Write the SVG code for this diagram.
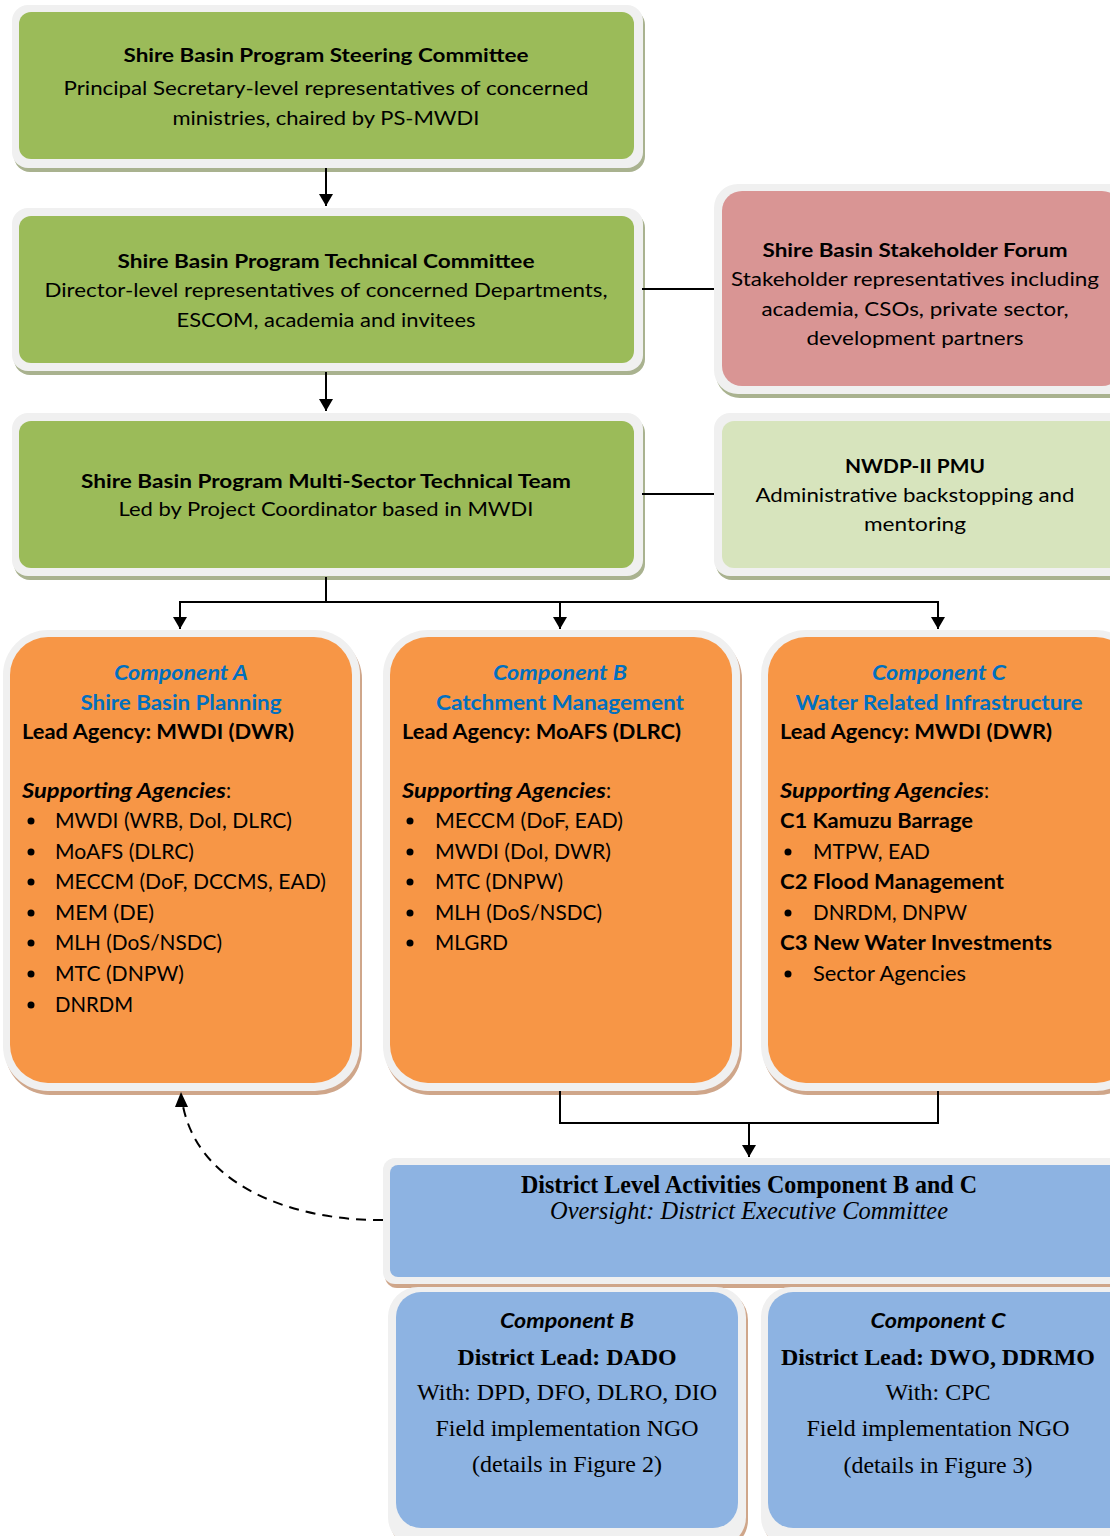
<svg xmlns="http://www.w3.org/2000/svg" width="1110" height="1536" viewBox="0 0 1110 1536">
<defs>
<style>
.frame{fill:#F0F0F0}
.shg{fill:#A9B28F}
.sht{fill:#CFA68A}
.green{fill:#9BBB59}
.pink{fill:#D99594}
.lgreen{fill:#D7E4BD}
.orange{fill:#F79646}
.blue{fill:#8DB3E2}
.s{font-family:Lato,"Open Sans","Liberation Sans",sans-serif;fill:#000}
.g{font-size:19.5px}
.o{font-size:20.5px}
.b{font-weight:bold}
.i{font-style:italic}
.bl{fill:#0070C0}
.t{font-family:"Liberation Serif","Times New Roman",serif;fill:#000;font-size:24px}
.tt{font-size:25px}
.c{text-anchor:middle}
.ln{stroke:#000;stroke-width:2;fill:none}
</style>
<marker id="ah" viewBox="0 0 12 14" refX="12" refY="7" markerWidth="12" markerHeight="14" markerUnits="userSpaceOnUse" orient="auto">
<path d="M0,0 L12,7 L0,14 Z" fill="#000"/>
</marker>
</defs>

<g id="steering">
<rect class="shg" x="14" y="9" width="631" height="163" rx="16"/>
<rect class="frame" x="12" y="5" width="631" height="163" rx="16"/>
<rect class="green" x="19" y="12" width="615" height="147" rx="12"/>
<text class="s g b c" x="326" y="62" textLength="405" lengthAdjust="spacingAndGlyphs">Shire Basin Program Steering Committee</text>
<text class="s g c" x="326" y="95" textLength="525" lengthAdjust="spacingAndGlyphs">Principal Secretary-level representatives of concerned</text>
<text class="s g c" x="326" y="125" textLength="307" lengthAdjust="spacingAndGlyphs">ministries, chaired by PS-MWDI</text>
</g>

<g id="technical">
<rect class="shg" x="14" y="212" width="631" height="163" rx="16"/>
<rect class="frame" x="12" y="208" width="631" height="163" rx="16"/>
<rect class="green" x="19" y="216" width="615" height="147" rx="12"/>
<text class="s g b c" x="326" y="268" textLength="417" lengthAdjust="spacingAndGlyphs">Shire Basin Program Technical Committee</text>
<text class="s g c" x="326" y="297" textLength="563" lengthAdjust="spacingAndGlyphs">Director-level representatives of concerned Departments,</text>
<text class="s g c" x="326" y="327" textLength="299" lengthAdjust="spacingAndGlyphs">ESCOM, academia and invitees</text>
</g>

<g id="multisector">
<rect class="shg" x="14" y="417" width="631" height="163" rx="16"/>
<rect class="frame" x="12" y="413" width="631" height="163" rx="16"/>
<rect class="green" x="19" y="421" width="615" height="147" rx="12"/>
<text class="s g b c" x="326" y="488" textLength="490" lengthAdjust="spacingAndGlyphs">Shire Basin Program Multi-Sector Technical Team</text>
<text class="s g c" x="326" y="516" textLength="415" lengthAdjust="spacingAndGlyphs">Led by Project Coordinator based in MWDI</text>
</g>

<g id="stakeholder">
<rect class="shg" x="716" y="188" width="420" height="210" rx="24"/>
<rect class="frame" x="714" y="184" width="420" height="210" rx="24"/>
<rect class="pink" x="722" y="191" width="400" height="195" rx="20"/>
<text class="s g b c" x="915" y="257" textLength="305" lengthAdjust="spacingAndGlyphs">Shire Basin Stakeholder Forum</text>
<text class="s g c" x="915" y="286" textLength="368" lengthAdjust="spacingAndGlyphs">Stakeholder representatives including</text>
<text class="s g c" x="915" y="316" textLength="307" lengthAdjust="spacingAndGlyphs">academia, CSOs, private sector,</text>
<text class="s g c" x="915" y="345" textLength="217" lengthAdjust="spacingAndGlyphs">development partners</text>
</g>

<g id="pmu">
<rect class="shg" x="716" y="417" width="420" height="163" rx="16"/>
<rect class="frame" x="714" y="413" width="420" height="163" rx="16"/>
<rect class="lgreen" x="722" y="421" width="400" height="147" rx="12"/>
<text class="s g b c" x="915" y="473" textLength="140" lengthAdjust="spacingAndGlyphs">NWDP-II PMU</text>
<text class="s g c" x="915" y="502" textLength="319" lengthAdjust="spacingAndGlyphs">Administrative backstopping and</text>
<text class="s g c" x="915" y="531" textLength="102" lengthAdjust="spacingAndGlyphs">mentoring</text>
</g>

<g id="componentA">
<rect class="sht" x="5" y="634" width="357" height="461" rx="45"/>
<rect class="frame" x="3" y="630" width="357" height="461" rx="45"/>
<rect class="orange" x="10" y="637" width="342" height="446" rx="38"/>
<text class="s o b i bl c" x="181" y="680" textLength="134" lengthAdjust="spacingAndGlyphs">Component A</text>
<text class="s o b bl c" x="181" y="710" textLength="201" lengthAdjust="spacingAndGlyphs">Shire Basin Planning</text>
<text class="s o b" x="22" y="739" textLength="272" lengthAdjust="spacingAndGlyphs">Lead Agency: MWDI (DWR)</text>
<text class="s o" x="22" y="798"><tspan class="b i" textLength="204" lengthAdjust="spacingAndGlyphs">Supporting Agencies</tspan>:</text>
<g class="s o">
<circle cx="31" cy="821" r="3.5"/><text x="55" y="828" textLength="237" lengthAdjust="spacingAndGlyphs">MWDI (WRB, DoI, DLRC)</text>
<circle cx="31" cy="852" r="3.5"/><text x="55" y="859" textLength="139" lengthAdjust="spacingAndGlyphs">MoAFS (DLRC)</text>
<circle cx="31" cy="882" r="3.5"/><text x="55" y="889" textLength="271" lengthAdjust="spacingAndGlyphs">MECCM (DoF, DCCMS, EAD)</text>
<circle cx="31" cy="913" r="3.5"/><text x="55" y="920" textLength="99" lengthAdjust="spacingAndGlyphs">MEM (DE)</text>
<circle cx="31" cy="943" r="3.5"/><text x="55" y="950" textLength="167" lengthAdjust="spacingAndGlyphs">MLH (DoS/NSDC)</text>
<circle cx="31" cy="974" r="3.5"/><text x="55" y="981" textLength="129" lengthAdjust="spacingAndGlyphs">MTC (DNPW)</text>
<circle cx="31" cy="1005" r="3.5"/><text x="55" y="1012" textLength="78" lengthAdjust="spacingAndGlyphs">DNRDM</text>
</g>
</g>

<g id="componentB">
<rect class="sht" x="385" y="634" width="357" height="461" rx="45"/>
<rect class="frame" x="383" y="630" width="357" height="461" rx="45"/>
<rect class="orange" x="390" y="637" width="342" height="446" rx="38"/>
<text class="s o b i bl c" x="560" y="680" textLength="134" lengthAdjust="spacingAndGlyphs">Component B</text>
<text class="s o b bl c" x="560" y="710" textLength="248" lengthAdjust="spacingAndGlyphs">Catchment Management</text>
<text class="s o b" x="402" y="739" textLength="279" lengthAdjust="spacingAndGlyphs">Lead Agency: MoAFS (DLRC)</text>
<text class="s o" x="402" y="798"><tspan class="b i" textLength="204" lengthAdjust="spacingAndGlyphs">Supporting Agencies</tspan>:</text>
<g class="s o">
<circle cx="410" cy="821" r="3.5"/><text x="435" y="828" textLength="188" lengthAdjust="spacingAndGlyphs">MECCM (DoF, EAD)</text>
<circle cx="410" cy="852" r="3.5"/><text x="435" y="859" textLength="176" lengthAdjust="spacingAndGlyphs">MWDI (DoI, DWR)</text>
<circle cx="410" cy="882" r="3.5"/><text x="435" y="889" textLength="128" lengthAdjust="spacingAndGlyphs">MTC (DNPW)</text>
<circle cx="410" cy="913" r="3.5"/><text x="435" y="920" textLength="167" lengthAdjust="spacingAndGlyphs">MLH (DoS/NSDC)</text>
<circle cx="410" cy="943" r="3.5"/><text x="435" y="950" textLength="73" lengthAdjust="spacingAndGlyphs">MLGRD</text>
</g>
</g>

<g id="componentC">
<rect class="sht" x="763" y="634" width="380" height="461" rx="45"/>
<rect class="frame" x="761" y="630" width="380" height="461" rx="45"/>
<rect class="orange" x="768" y="637" width="366" height="446" rx="38"/>
<text class="s o b i bl c" x="939" y="680" textLength="134" lengthAdjust="spacingAndGlyphs">Component C</text>
<text class="s o b bl c" x="939" y="710" textLength="287" lengthAdjust="spacingAndGlyphs">Water Related Infrastructure</text>
<text class="s o b" x="780" y="739" textLength="272" lengthAdjust="spacingAndGlyphs">Lead Agency: MWDI (DWR)</text>
<text class="s o" x="780" y="798"><tspan class="b i" textLength="204" lengthAdjust="spacingAndGlyphs">Supporting Agencies</tspan>:</text>
<g class="s o">
<text class="b" x="780" y="828" textLength="193" lengthAdjust="spacingAndGlyphs">C1 Kamuzu Barrage</text>
<circle cx="788" cy="852" r="3.5"/><text x="813" y="859" textLength="117" lengthAdjust="spacingAndGlyphs">MTPW, EAD</text>
<text class="b" x="780" y="889" textLength="224" lengthAdjust="spacingAndGlyphs">C2 Flood Management</text>
<circle cx="788" cy="913" r="3.5"/><text x="813" y="920" textLength="154" lengthAdjust="spacingAndGlyphs">DNRDM, DNPW</text>
<text class="b" x="780" y="950" textLength="272" lengthAdjust="spacingAndGlyphs">C3 New Water Investments</text>
<circle cx="788" cy="974" r="3.5"/><text x="813" y="981" textLength="153" lengthAdjust="spacingAndGlyphs">Sector Agencies</text>
</g>
</g>

<g id="district">
<rect class="sht" x="385" y="1162" width="740" height="126" rx="12"/>
<rect class="frame" x="383" y="1158" width="740" height="126" rx="12"/>
<rect class="blue" x="390" y="1165" width="730" height="112" rx="8"/>
<text class="t tt b c" x="749" y="1193" textLength="456" lengthAdjust="spacingAndGlyphs">District Level Activities Component B and C</text>
<text class="t tt i c" x="749" y="1219" textLength="398" lengthAdjust="spacingAndGlyphs">Oversight: District Executive Committee</text>
</g>

<g id="districtB">
<rect class="sht" x="390" y="1290" width="358" height="260" rx="30"/>
<rect class="frame" x="388" y="1287" width="358" height="260" rx="30"/>
<rect class="blue" x="396" y="1292" width="342" height="236" rx="25"/>
<text class="s o b i c" x="567" y="1328" textLength="134" lengthAdjust="spacingAndGlyphs">Component B</text>
<text class="t b c" x="567" y="1365" textLength="219" lengthAdjust="spacingAndGlyphs">District Lead: DADO</text>
<text class="t c" x="567" y="1400" textLength="300" lengthAdjust="spacingAndGlyphs">With: DPD, DFO, DLRO, DIO</text>
<text class="t c" x="567" y="1436" textLength="263" lengthAdjust="spacingAndGlyphs">Field implementation NGO</text>
<text class="t c" x="567" y="1472" textLength="190" lengthAdjust="spacingAndGlyphs">(details in Figure 2)</text>
</g>

<g id="districtC">
<rect class="sht" x="763" y="1290" width="380" height="260" rx="30"/>
<rect class="frame" x="761" y="1287" width="380" height="260" rx="30"/>
<rect class="blue" x="768" y="1292" width="366" height="236" rx="25"/>
<text class="s o b i c" x="938" y="1328" textLength="135" lengthAdjust="spacingAndGlyphs">Component C</text>
<text class="t b c" x="938" y="1365" textLength="314" lengthAdjust="spacingAndGlyphs">District Lead: DWO, DDRMO</text>
<text class="t c" x="938" y="1400" textLength="105" lengthAdjust="spacingAndGlyphs">With: CPC</text>
<text class="t c" x="938" y="1436" textLength="263" lengthAdjust="spacingAndGlyphs">Field implementation NGO</text>
<text class="t c" x="938" y="1473" textLength="189" lengthAdjust="spacingAndGlyphs">(details in Figure 3)</text>
</g>

<g id="connectors">
<line class="ln" x1="326" y1="168" x2="326" y2="206" marker-end="url(#ah)"/>
<line class="ln" x1="326" y1="372" x2="326" y2="411" marker-end="url(#ah)"/>
<line class="ln" x1="642" y1="289" x2="714" y2="289"/>
<line class="ln" x1="642" y1="494" x2="714" y2="494"/>
<polyline class="ln" points="326,577 326,602"/>
<polyline class="ln" points="180,602 938,602"/>
<line class="ln" x1="180" y1="601" x2="180" y2="629" marker-end="url(#ah)"/>
<line class="ln" x1="560" y1="601" x2="560" y2="629" marker-end="url(#ah)"/>
<line class="ln" x1="938" y1="601" x2="938" y2="629" marker-end="url(#ah)"/>
<polyline class="ln" points="560,1091 560,1123 938,1123 938,1091"/>
<line class="ln" x1="749" y1="1123" x2="749" y2="1157" marker-end="url(#ah)"/>
<path class="ln" d="M383,1220 C300,1221 200,1190 183,1106" stroke-dasharray="10,7"/>
<path d="M181,1092 L188,1107 L175,1107 Z" fill="#000"/>
</g>
</svg>
